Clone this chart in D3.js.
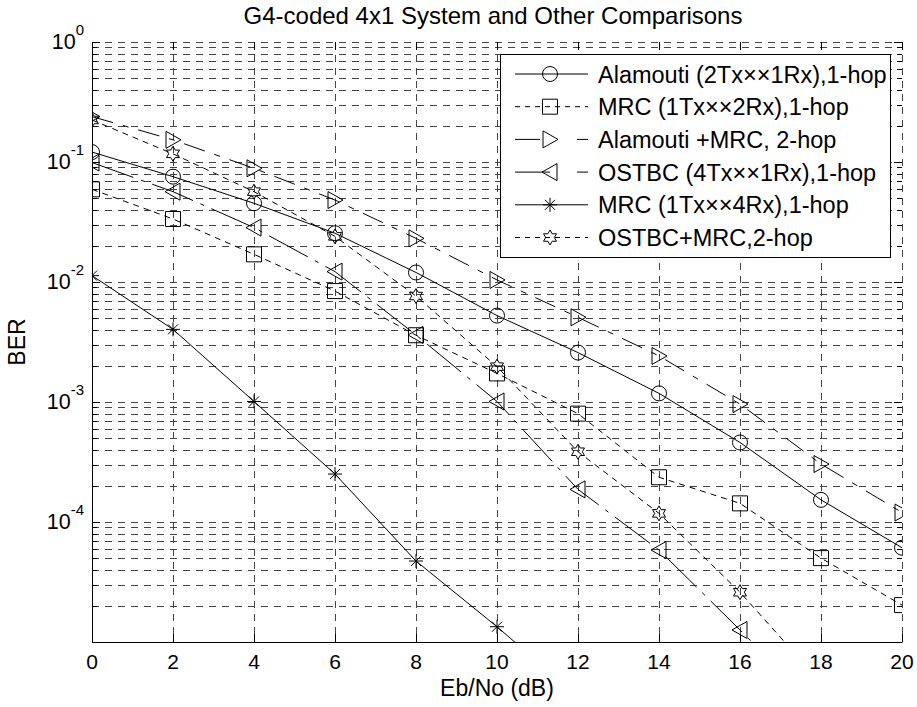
<!DOCTYPE html>
<html>
<head>
<meta charset="utf-8">
<script src="https://cdn.jsdelivr.net/npm/d3@7"></script>
<style>
  html, body { margin: 0; padding: 0; background: #fff; }
  svg { display: block; font-family: "Liberation Sans", Arial, Helvetica, sans-serif; }
</style>
</head>
<body>
<svg id="chart" width="917" height="707"></svg>
<script>
// ---------------- DATA ----------------
const ebno = [0, 2, 4, 6, 8, 10, 12, 14, 16, 18, 20];
const alamouti1hop   = [0.121, 0.0755, 0.0453, 0.0255, 0.0120, 0.00525, 0.00258, 0.00118, 4.6e-4, 1.53e-4, 6.1e-5];
const mrc2rx1hop     = [0.0592, 0.0335, 0.0170, 0.0084, 0.0036, 0.00173, 8.0e-4, 2.36e-4, 1.43e-4, 5.0e-5, 2.03e-5];
const alamoutiMrc2hop= [0.239, 0.153, 0.0886, 0.0482, 0.0231, 0.0104, 0.00508, 0.00242, 9.6e-4, 3.04e-4, 1.2e-4];
const ostbc4tx1hop   = [0.099, 0.0566, 0.0284, 0.0122, 0.00362, 0.00101, 1.87e-4, 5.84e-5, 1.26e-5, 2.6e-6];
const mrc4rx1hop     = [0.0113, 0.00403, 0.00101, 2.51e-4, 4.73e-5, 1.34e-5, 3.5e-6];
const ostbcMrc2hop   = [0.224, 0.117, 0.0566, 0.024, 0.00764, 0.00197, 3.85e-4, 1.18e-4, 2.6e-5, 4.6e-6];

const seriesNames = [
  "Alamouti (2Tx\u00D7\u00D71Rx),1-hop",
  "MRC (1Tx\u00D7\u00D72Rx),1-hop",
  "Alamouti +MRC, 2-hop",
  "OSTBC (4Tx\u00D7\u00D71Rx),1-hop",
  "MRC (1Tx\u00D7\u00D74Rx),1-hop",
  "OSTBC+MRC,2-hop"
];
const xTicks = [0, 2, 4, 6, 8, 10, 12, 14, 16, 18, 20];
const yDecades = [-5, -4, -3, -2, -1, 0];
const yLabelDecades = [-4, -3, -2, -1, 0];
const titleText = "G4-coded 4x1 System and Other Comparisons";
const xLabelText = "Eb/No (dB)";
const yLabelText = "BER";

// ---------------- LAYOUT ----------------
const L = 92, R = 902, T = 42, B = 642;
const svg = d3.select("#chart");
const x = d3.scaleLinear().domain([0, 20]).range([L, R]);
const y = d3.scaleLog().domain([1e-5, 1]).range([B, T]);

svg.append("defs").append("clipPath").attr("id", "plotclip")
  .append("rect").attr("x", L).attr("y", T).attr("width", R - L).attr("height", B - T);

// ---------------- GRID ----------------
const gridColor = "#444";
const gridDash = "7,6";
const yGridVals = [];
yDecades.forEach(k => {
  for (let m = 1; m <= 9; m++) {
    const v = m * Math.pow(10, k);
    if (v > 1e-5 * 1.0001 && v <= 1.0001) yGridVals.push({ v, major: m === 1 });
  }
});
const grid = svg.append("g");
grid.selectAll("line.hg").data(yGridVals).enter().append("line")
  .attr("x1", L).attr("x2", R)
  .attr("y1", d => Math.round(y(d.v)) + 0.5).attr("y2", d => Math.round(y(d.v)) + 0.5)
  .attr("stroke", gridColor).attr("stroke-width", 1).attr("stroke-dasharray", gridDash);
grid.selectAll("line.vg").data(xTicks.filter(t => t > 0)).enter().append("line")
  .attr("y1", T).attr("y2", B)
  .attr("x1", d => Math.round(x(d)) + 0.5).attr("x2", d => Math.round(x(d)) + 0.5)
  .attr("stroke", gridColor).attr("stroke-width", 1).attr("stroke-dasharray", gridDash);

// ---------------- TICKS ----------------
const ticks = svg.append("g").attr("stroke", "#000").attr("stroke-width", 1);
yGridVals.concat([{ v: 1e-5, major: true }]).forEach(d => {
  const yy = Math.round(y(d.v)) + 0.5;
  const len = d.major ? 8 : 5;
  ticks.append("line").attr("x1", L).attr("x2", L + len).attr("y1", yy).attr("y2", yy);
  ticks.append("line").attr("x1", R - len).attr("x2", R).attr("y1", yy).attr("y2", yy);
});
xTicks.forEach(t => {
  const xx = Math.round(x(t)) + 0.5;
  ticks.append("line").attr("x1", xx).attr("x2", xx).attr("y1", B).attr("y2", B - 8);
  ticks.append("line").attr("x1", xx).attr("x2", xx).attr("y1", T).attr("y2", T + 8);
});

// axis lines (left & bottom solid)
svg.append("line").attr("x1", L + 0.5).attr("x2", L + 0.5).attr("y1", T).attr("y2", B + 0.5)
  .attr("stroke", "#000").attr("stroke-width", 1);
svg.append("line").attr("x1", L).attr("x2", R + 0.5).attr("y1", B + 0.5).attr("y2", B + 0.5)
  .attr("stroke", "#000").attr("stroke-width", 1);

// ---------------- TICK LABELS ----------------
const xl = svg.append("g").attr("font-size", 21).attr("fill", "#000");
xTicks.forEach(t => {
  xl.append("text").attr("x", x(t)).attr("y", 669).attr("text-anchor", "middle").text(t);
});
yLabelDecades.forEach(k => {
  const yy = y(Math.pow(10, k));
  const tx = xl.append("text").attr("x", 84).attr("y", yy + 6.5).attr("text-anchor", "end");
  tx.append("tspan").attr("font-size", 21.5).text("10");
  tx.append("tspan").attr("font-size", 15).attr("dy", -13.5).text(String(k));
});

// ---------------- LABELS ----------------
svg.append("text").attr("x", 493).attr("y", 24).attr("text-anchor", "middle")
  .attr("font-size", 24).text(titleText);
svg.append("text").attr("x", 497).attr("y", 696).attr("text-anchor", "middle")
  .attr("font-size", 23).text(xLabelText);
svg.append("text").attr("transform", "translate(25,342) rotate(-90)").attr("text-anchor", "middle")
  .attr("font-size", 23).text(yLabelText);

// ---------------- MARKERS ----------------
function hexagramPath(Ro) {
  const ri = Ro / Math.sqrt(3);
  const pts = [];
  for (let i = 0; i < 12; i++) {
    const a = -Math.PI / 2 + i * Math.PI / 6;
    const r = i % 2 === 0 ? Ro : ri;
    pts.push([r * Math.cos(a), r * Math.sin(a)]);
  }
  return "M" + pts.map(p => p[0].toFixed(2) + "," + p[1].toFixed(2)).join("L") + "Z";
}
const markerPaths = {
  circle: "M7.5,0A7.5,7.5 0 1,1 -7.5,0A7.5,7.5 0 1,1 7.5,0Z",
  square: "M-7.5,-7.5L7.5,-7.5L7.5,7.5L-7.5,7.5Z",
  triRight: "M-7,-8.5L8,0L-7,8.5Z",
  triLeft: "M7,-8.5L-8,0L7,8.5Z",
  asterisk: "M-7,0L7,0M0,-7L0,7M-5,-5L5,5M-5,5L5,-5",
  hexagram: hexagramPath(7.5)
};

const series = [
  { name: seriesNames[0], values: alamouti1hop,    marker: "circle",   dash: null,          legDash: null },
  { name: seriesNames[1], values: mrc2rx1hop,      marker: "square",   dash: "6,5",         legDash: "5,5" },
  { name: seriesNames[2], values: alamoutiMrc2hop, marker: "triRight", dash: "22,10,6,10",  legDash: "25,37,14" },
  { name: seriesNames[3], values: ostbc4tx1hop,    marker: "triLeft",  dash: "44,8,4,8",    legDash: "35,27,14" },
  { name: seriesNames[4], values: mrc4rx1hop,      marker: "asterisk", dash: null,          legDash: null },
  { name: seriesNames[5], values: ostbcMrc2hop,    marker: "hexagram", dash: "6,5",         legDash: "5,5" }
];

const lineGen = d3.line().x(d => x(d[0])).y(d => y(d[1]));
const plot = svg.append("g").attr("clip-path", "url(#plotclip)");
series.forEach(s => {
  const pts = s.values.map((v, i) => [ebno[i], v]);
  plot.append("path").datum(pts).attr("d", lineGen)
    .attr("fill", "none").attr("stroke", "#000").attr("stroke-width", 1)
    .attr("stroke-dasharray", s.dash);
  plot.selectAll(null).data(pts.filter(p => p[1] >= 1e-5)).enter().append("path")
    .attr("transform", p => `translate(${x(p[0])},${y(p[1])})`)
    .attr("d", markerPaths[s.marker])
    .attr("fill", "none").attr("stroke", "#000").attr("stroke-width", 1);
});

// ---------------- LEGEND ----------------
const lg = svg.append("g");
lg.append("rect").attr("x", 500.5).attr("y", 54.5).attr("width", 390).attr("height", 203)
  .attr("fill", "#fff").attr("stroke", "#000").attr("stroke-width", 1);
series.forEach((s, i) => {
  const cy = 74 + i * 32.7;
  lg.append("line").attr("x1", 515).attr("x2", 588).attr("y1", cy).attr("y2", cy)
    .attr("stroke", "#000").attr("stroke-width", 1)
    .attr("stroke-dasharray", s.legDash);
  lg.append("path").attr("transform", `translate(550,${cy})`).attr("d", markerPaths[s.marker])
    .attr("fill", "none").attr("stroke", "#000").attr("stroke-width", 1);
  lg.append("text").attr("x", 598).attr("y", cy + 8.5).attr("font-size", 23.5).text(s.name);
});
</script>
</body>
</html>
